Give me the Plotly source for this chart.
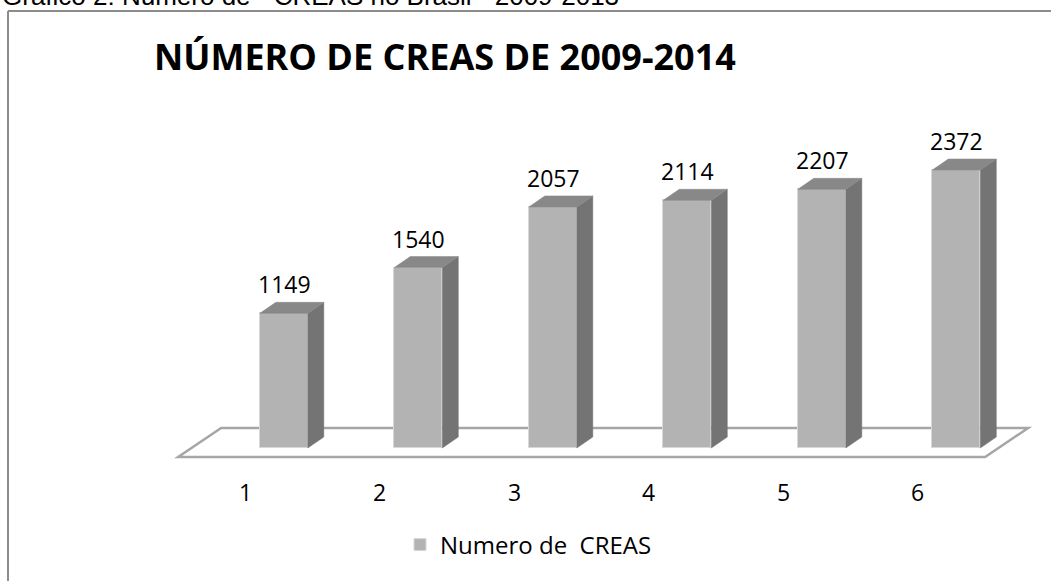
import plotly.graph_objects as go

# ---- data ----
categories = [1, 2, 3, 4, 5, 6]
creas_values = [1149, 1540, 2057, 2114, 2207, 2372]
tick_labels = ["1", "2", "3", "4", "5", "6"]
series_name = "Numero de \u00a0CREAS"
chart_title = "NÚMERO DE CREAS DE 2009-2014"
caption = "Gráfico 2: Número de \u00a0“CREAS no Brasil” \u00a02009-2013"

# ---- geometry / style (not data) ----
W, H = 1051, 581
px_per_cat = 134.5          # pixels per category step
px_per_unit = 0.1172        # pixels per value unit
x0_px, y0_px = 245.4, 448.0  # pixel of category 1 (front), value 0
x_range = [1 - x0_px / px_per_cat, 1 + (W - x0_px) / px_per_cat]
y_range = [-(H - y0_px) / px_per_unit, y0_px / px_per_unit]

bar_w = 0.357
bar_off = 0.107
depth_dx = 16 / px_per_cat
depth_dy = 11 / px_per_unit
floor_dx = 43 / px_per_cat
floor_dy = 29 / px_per_unit
floor_front = -9 / px_per_unit

FRONT = "#b3b3b3"
SIDE = "#747474"
TOP = "#888888"
FONT = "Open Sans"

fig = go.Figure()

# front faces
fig.add_trace(go.Bar(
    x=categories, y=creas_values, width=bar_w, offset=bar_off,
    marker=dict(color=FRONT, line=dict(color="#d8d8d8", width=1)),
    name=series_name, showlegend=True, hoverinfo="x+y",
))

# side and top faces
side_x, side_y, top_x, top_y = [], [], [], []
for c, v in zip(categories, creas_values):
    xr = c + bar_off + bar_w
    xl = c + bar_off
    side_x += [xr, xr + depth_dx, xr + depth_dx, xr, xr, None]
    side_y += [0, depth_dy, v + depth_dy, v, 0, None]
    top_x += [xl, xr, xr + depth_dx, xl + depth_dx, xl, None]
    top_y += [v, v, v + depth_dy, v + depth_dy, v, None]

fig.add_trace(go.Scatter(x=side_x, y=side_y, fill="toself", fillcolor=SIDE,
                         mode="lines", line=dict(color=SIDE, width=0.5),
                         showlegend=False, hoverinfo="skip"))
fig.add_trace(go.Scatter(x=top_x, y=top_y, fill="toself", fillcolor=TOP,
                         mode="lines", line=dict(color=TOP, width=0.5),
                         showlegend=False, hoverinfo="skip"))

# floor
fl, fr = min(categories) - 0.5, max(categories) + 0.5
floor_path = (f"M {fl},{floor_front} L {fr},{floor_front} "
              f"L {fr + floor_dx},{floor_front + floor_dy} "
              f"L {fl + floor_dx},{floor_front + floor_dy} Z")
shapes = [
    dict(type="path", path=floor_path, xref="x", yref="y", layer="below",
         fillcolor="white", line=dict(color="#a6a6a6", width=2.5)),
    # chart border (top and left visible)
    dict(type="line", xref="paper", yref="paper",
         x0=8 / W, x1=1.0, y0=1 - 11 / H, y1=1 - 11 / H,
         line=dict(color="#8c8c8c", width=2)),
    dict(type="line", xref="paper", yref="paper",
         x0=8 / W, x1=8 / W, y0=1 - 11 / H, y1=0,
         line=dict(color="#8c8c8c", width=2)),
]

annotations = []
# data labels
for c, v in zip(categories, creas_values):
    annotations.append(dict(
        x=c + bar_off + bar_w / 2 + 0.005, y=v, xref="x", yref="y",
        text=f"{v}", showarrow=False, yanchor="middle", xanchor="center",
        yshift=29, font=dict(family=FONT, size=23, color="#000000")))
# category labels
for c, t in zip(categories, tick_labels):
    annotations.append(dict(
        x=c, y=-(492 - y0_px) / px_per_unit, xref="x", yref="y",
        text=t, showarrow=False, yanchor="middle", xanchor="center",
        font=dict(family=FONT, size=23, color="#000000")))
# title
annotations.append(dict(
    x=445 / W, y=1 - 57 / H, xref="paper", yref="paper", text=f"<b>{chart_title}</b>",
    showarrow=False, xanchor="center", yanchor="middle",
    font=dict(family=FONT, size=36, color="#000000")))
# caption (partially cut at top)
annotations.append(dict(
    x=0, y=1 - 13 / H, xref="paper", yref="paper", text=caption,
    showarrow=False, xanchor="left", yanchor="bottom",
    font=dict(family="Liberation Sans, Arial", size=26, color="#000000")))

fig.update_layout(
    width=W, height=H,
    margin=dict(l=0, r=0, t=0, b=0),
    paper_bgcolor="white", plot_bgcolor="white",
    xaxis=dict(range=x_range, visible=False, fixedrange=True),
    yaxis=dict(range=y_range, visible=False, fixedrange=True),
    shapes=shapes, annotations=annotations,
    showlegend=True,
    legend=dict(x=400 / W, y=1 - 545 / H, xanchor="left", yanchor="middle",
                font=dict(family=FONT, size=24, color="#000000"),
                bgcolor="rgba(0,0,0,0)"),
    bargap=0,
)

fig.write_html("out.html", config={"displayModeBar": False},
               post_script="document.body.style.margin='0';document.body.style.overflow='hidden';")
